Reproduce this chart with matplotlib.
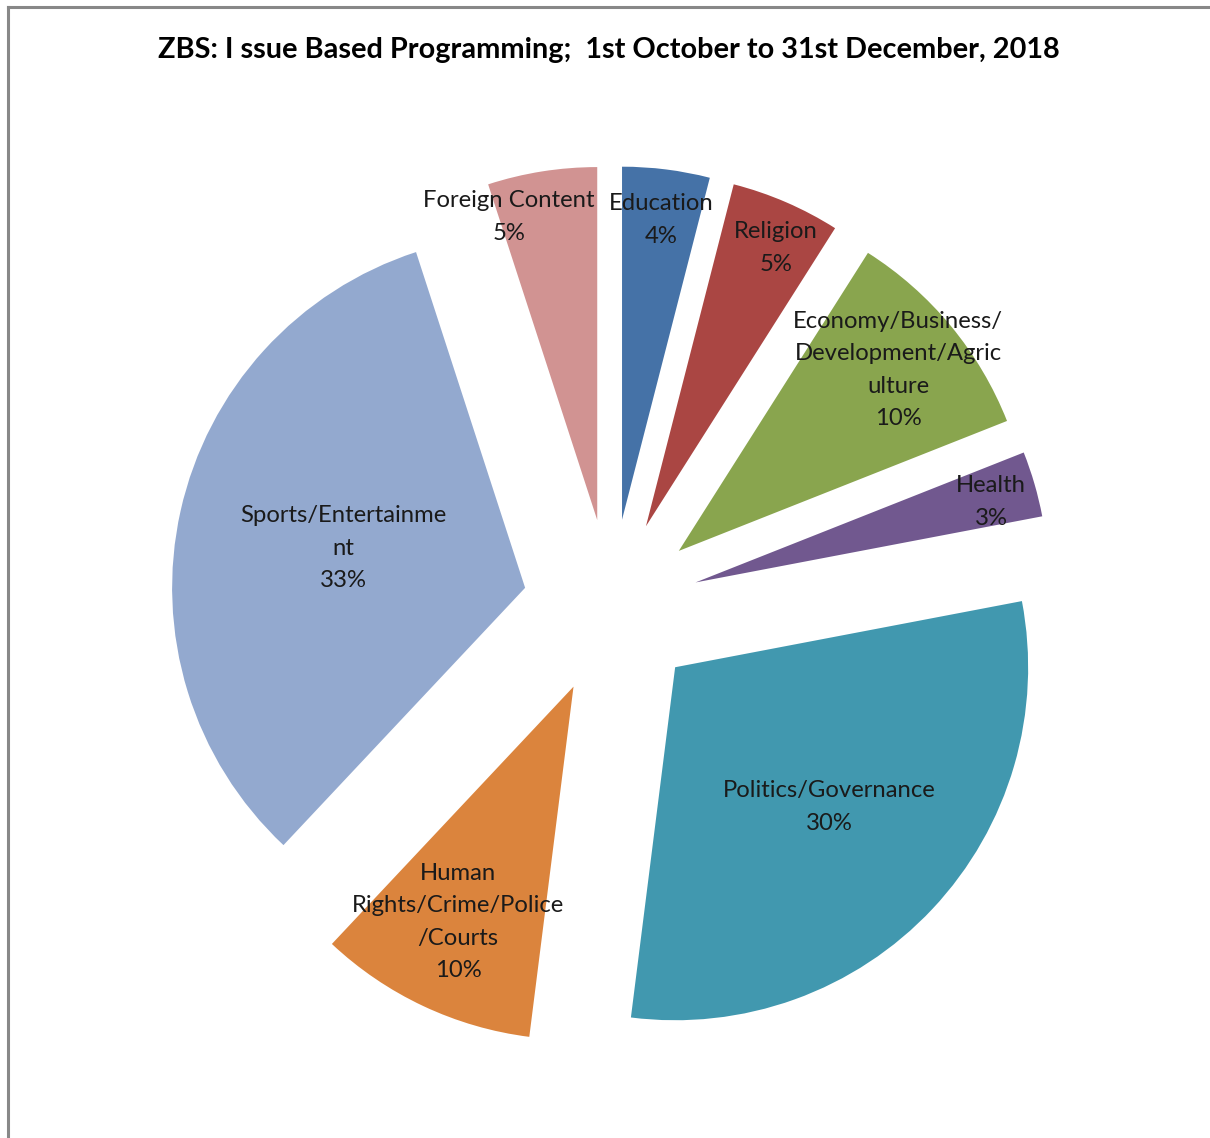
import matplotlib
matplotlib.use("Agg")
import matplotlib.pyplot as plt
from matplotlib.lines import Line2D

# Share of issue-based programming by category (percent)
categories = [
    "Education",
    "Religion",
    "Economy/Business/\nDevelopment/Agric\nulture",
    "Health",
    "Politics/Governance",
    "Human\nRights/Crime/Police\n/Courts",
    "Sports/Entertainme\nnt",
    "Foreign Content",
]
shares = [4, 5, 10, 3, 30, 10, 33, 5]

colors = ["#4572A7", "#AA4643", "#89A54E", "#71588F",
          "#4198AF", "#DB843D", "#93A9CF", "#D19392"]

W, H = 1210, 1138
fig = plt.figure(figsize=(W / 100, H / 100), dpi=100)
ax = fig.add_axes([0, 0, 1, 1])
ax.axis("off")

cx, cy = 611, H - 607
radius = 353
offset = 88

ax.pie(shares, colors=colors, startangle=90, counterclock=False,
       center=(cx, cy), radius=radius, explode=[offset] * len(shares),
       wedgeprops=dict(linewidth=0))
ax.set_aspect("auto")
ax.set_xlim(0, W)
ax.set_ylim(0, H)

# Data label anchor points (x, y from top)
label_pos = [(661, 220), (776, 248), (898, 370), (991, 502),
             (829, 807), (458, 922), (343, 548), (509, 217)]

font = "Lato"
for name, val, (lx, ly) in zip(categories, shares, label_pos):
    ax.text(lx, H - ly, f"{name}\n{val:.0f}%", ha="center", va="center",
            fontsize=17.2, family=font, color="#1a1a1a", linespacing=1.66)

fig.text(609 / W, 1 - 50 / H,
         "ZBS: I ssue Based Programming;  1st October to 31st December, 2018",
         ha="center", va="center", fontsize=20.8, fontweight="bold",
         family=font, color="black")

# Chart frame edges
fig.add_artist(Line2D([8 / W, 8 / W], [0, 1 - 7 / H], transform=fig.transFigure,
                      color="#888888", linewidth=2.2))
fig.add_artist(Line2D([8 / W, 1], [1 - 7 / H, 1 - 7 / H], transform=fig.transFigure,
                      color="#888888", linewidth=2.2))

fig.savefig("out.png", dpi=100, facecolor="white")
